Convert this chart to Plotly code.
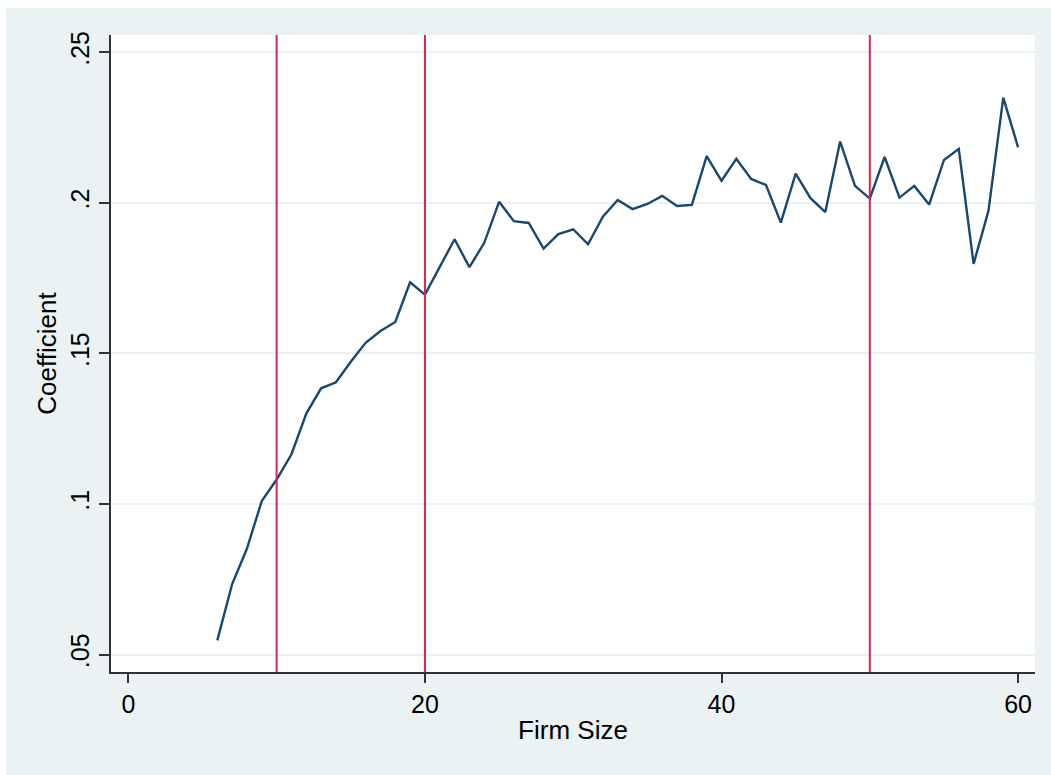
import plotly.graph_objects as go

# Estimated coefficient by firm size
firm_size = list(range(6, 61))
coefficient = [
    0.0547, 0.0734, 0.0852, 0.1010, 0.1081, 0.1165, 0.1300, 0.1384, 0.1404,
    0.1472, 0.1535, 0.1574, 0.1604, 0.1736, 0.1695, 0.1786, 0.1879, 0.1786,
    0.1867, 0.2003, 0.1939, 0.1933, 0.1848, 0.1896, 0.1912, 0.1862, 0.1954,
    0.2009, 0.1979, 0.1996, 0.2023, 0.1989, 0.1993, 0.2155, 0.2073, 0.2146,
    0.2079, 0.2059, 0.1934, 0.2097, 0.2015, 0.1969, 0.2203, 0.2056, 0.2014,
    0.2152, 0.2017, 0.2056, 0.1994, 0.2142, 0.2179, 0.1797, 0.1973, 0.2349,
    0.2184,
]

# Size thresholds marked with reference lines
thresholds = [10, 20, 50]

x_ticks = [0, 20, 40, 60]
y_ticks = [0.05, 0.10, 0.15, 0.20, 0.25]
y_tick_text = [".05", ".1", ".15", ".2", ".25"]

BG = "#eaf2f3"
NAVY = "#1a476f"
RED = "#d7264b"
FONT = "Liberation Sans, Arial, sans-serif"

fig = go.Figure()

fig.add_trace(go.Scatter(
    x=firm_size, y=coefficient, mode="lines",
    line=dict(color=NAVY, width=2.4),
    showlegend=False, hoverinfo="x+y",
))

for t in thresholds:
    fig.add_vline(x=t, line=dict(color=RED, width=2), layer="above")

# White margin strips around the outer background (left and top edges)
fig.add_shape(type="rect", xref="paper", yref="paper",
              x0=-111 / 924, x1=-105 / 924, y0=-1, y1=2,
              fillcolor="white", line=dict(width=0), layer="above")
fig.add_shape(type="rect", xref="paper", yref="paper",
              x0=-1, x1=2, y0=1 + 27 / 637, y1=1 + 35 / 637,
              fillcolor="white", line=dict(width=0), layer="above")

fig.update_layout(
    width=1051, height=775,
    margin=dict(l=111, r=16, t=35, b=103),
    paper_bgcolor=BG, plot_bgcolor="white",
    font=dict(family=FONT, size=25, color="black"),
    xaxis=dict(
        range=[-1.17, 61.14], tickvals=x_ticks,
        showgrid=False, zeroline=False,
        showline=True, linecolor="#333333", linewidth=2,
        ticks="outside", ticklen=9, tickwidth=2, tickcolor="#333333",
        tickfont=dict(size=25),
        title=dict(text="Firm Size", font=dict(size=26), standoff=4),
    ),
    yaxis=dict(
        range=[0.0442, 0.2557], tickvals=y_ticks, ticktext=y_tick_text,
        tickangle=-90,
        showgrid=True, gridcolor=BG, gridwidth=2,
        zeroline=False,
        showline=True, linecolor="#333333", linewidth=2,
        ticks="outside", ticklen=10, tickwidth=2, tickcolor="#333333",
        tickfont=dict(size=25),
        title=dict(text="Coefficient", font=dict(size=26), standoff=2),
    ),
)

fig.write_html("out.html")
